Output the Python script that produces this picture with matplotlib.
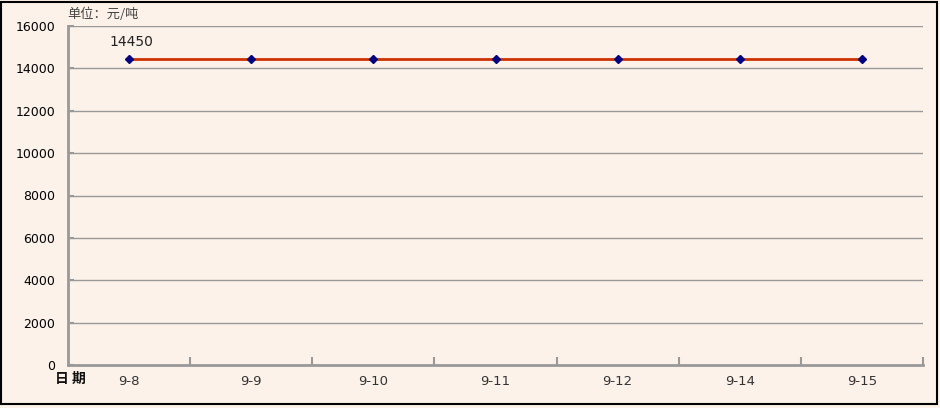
import matplotlib
matplotlib.use("Agg")
import matplotlib.pyplot as plt
from matplotlib.patches import Rectangle

plt.rcParams['font.family'] = ['DejaVu Sans', 'Noto Sans CJK SC']

dates = ["9-8", "9-9", "9-10", "9-11", "9-12", "9-14", "9-15"]
prices = [14450, 14450, 14450, 14450, 14450, 14450, 14450]
yticks = [0, 2000, 4000, 6000, 8000, 10000, 12000, 14000, 16000]

bg = "#FDF2E9"
W, H = 940, 408
cjk = ['Noto Sans CJK SC', 'DejaVu Sans']
fig = plt.figure(figsize=(W/100, H/100), dpi=100, facecolor=bg)
ax = fig.add_axes([68/W, (H-365)/H, (923-68)/W, (365-26)/H], facecolor=bg)

xs = list(range(len(dates)))
ax.plot(xs, prices, color="#CC3300", lw=2, zorder=3)
ax.plot(xs, prices, ls="none", marker="D", ms=4.5, color="#000080", zorder=4)
ax.annotate(str(prices[0]), (xs[0], prices[0]), xytext=(-14, 7), textcoords="offset points",
            fontsize=10, color="#222222", ha="left", va="bottom")

ax.set_xlim(-0.5, len(dates)-0.5)
ax.set_ylim(0, 16000)
ax.set_yticks(yticks)
ax.set_yticklabels([str(v) for v in yticks], fontsize=9)
for y in yticks[1:]:
    ax.axhline(y, color="#999999", lw=1, zorder=1)

ax.set_xticks([i + 0.5 for i in xs])
ax.set_xticklabels([])
ax.set_xticks(xs, minor=True)
ax.set_xticklabels(dates, minor=True, fontsize=9.5, color="#333333")
ax.tick_params(axis="x", which="minor", length=0, pad=7)
ax.tick_params(axis="x", which="major", direction="in", length=6, color="#999999", width=1.5)
ax.tick_params(axis="y", direction="in", length=4, color="#999999", width=1.5, pad=9)

for s in ["top", "right"]:
    ax.spines[s].set_visible(False)
for s in ["left", "bottom"]:
    ax.spines[s].set_color("#999999")
    ax.spines[s].set_linewidth(2)

fig.text(67/W, 1 - 14/H, "单位：元/吨", fontsize=9.5, color="#444444", va="center", ha="left", family=cjk)
fig.text(55/W, 1 - 379/H, "日 期", fontsize=10, color="#111111", va="center", ha="left",
         fontweight="bold", family=cjk)

fig.patches.append(Rectangle((1/W, 4/H), (W-4)/W, (H-6)/H, transform=fig.transFigure,
                             fill=False, edgecolor="black", lw=1.5))

fig.savefig("out.png", dpi=100, facecolor=bg)
